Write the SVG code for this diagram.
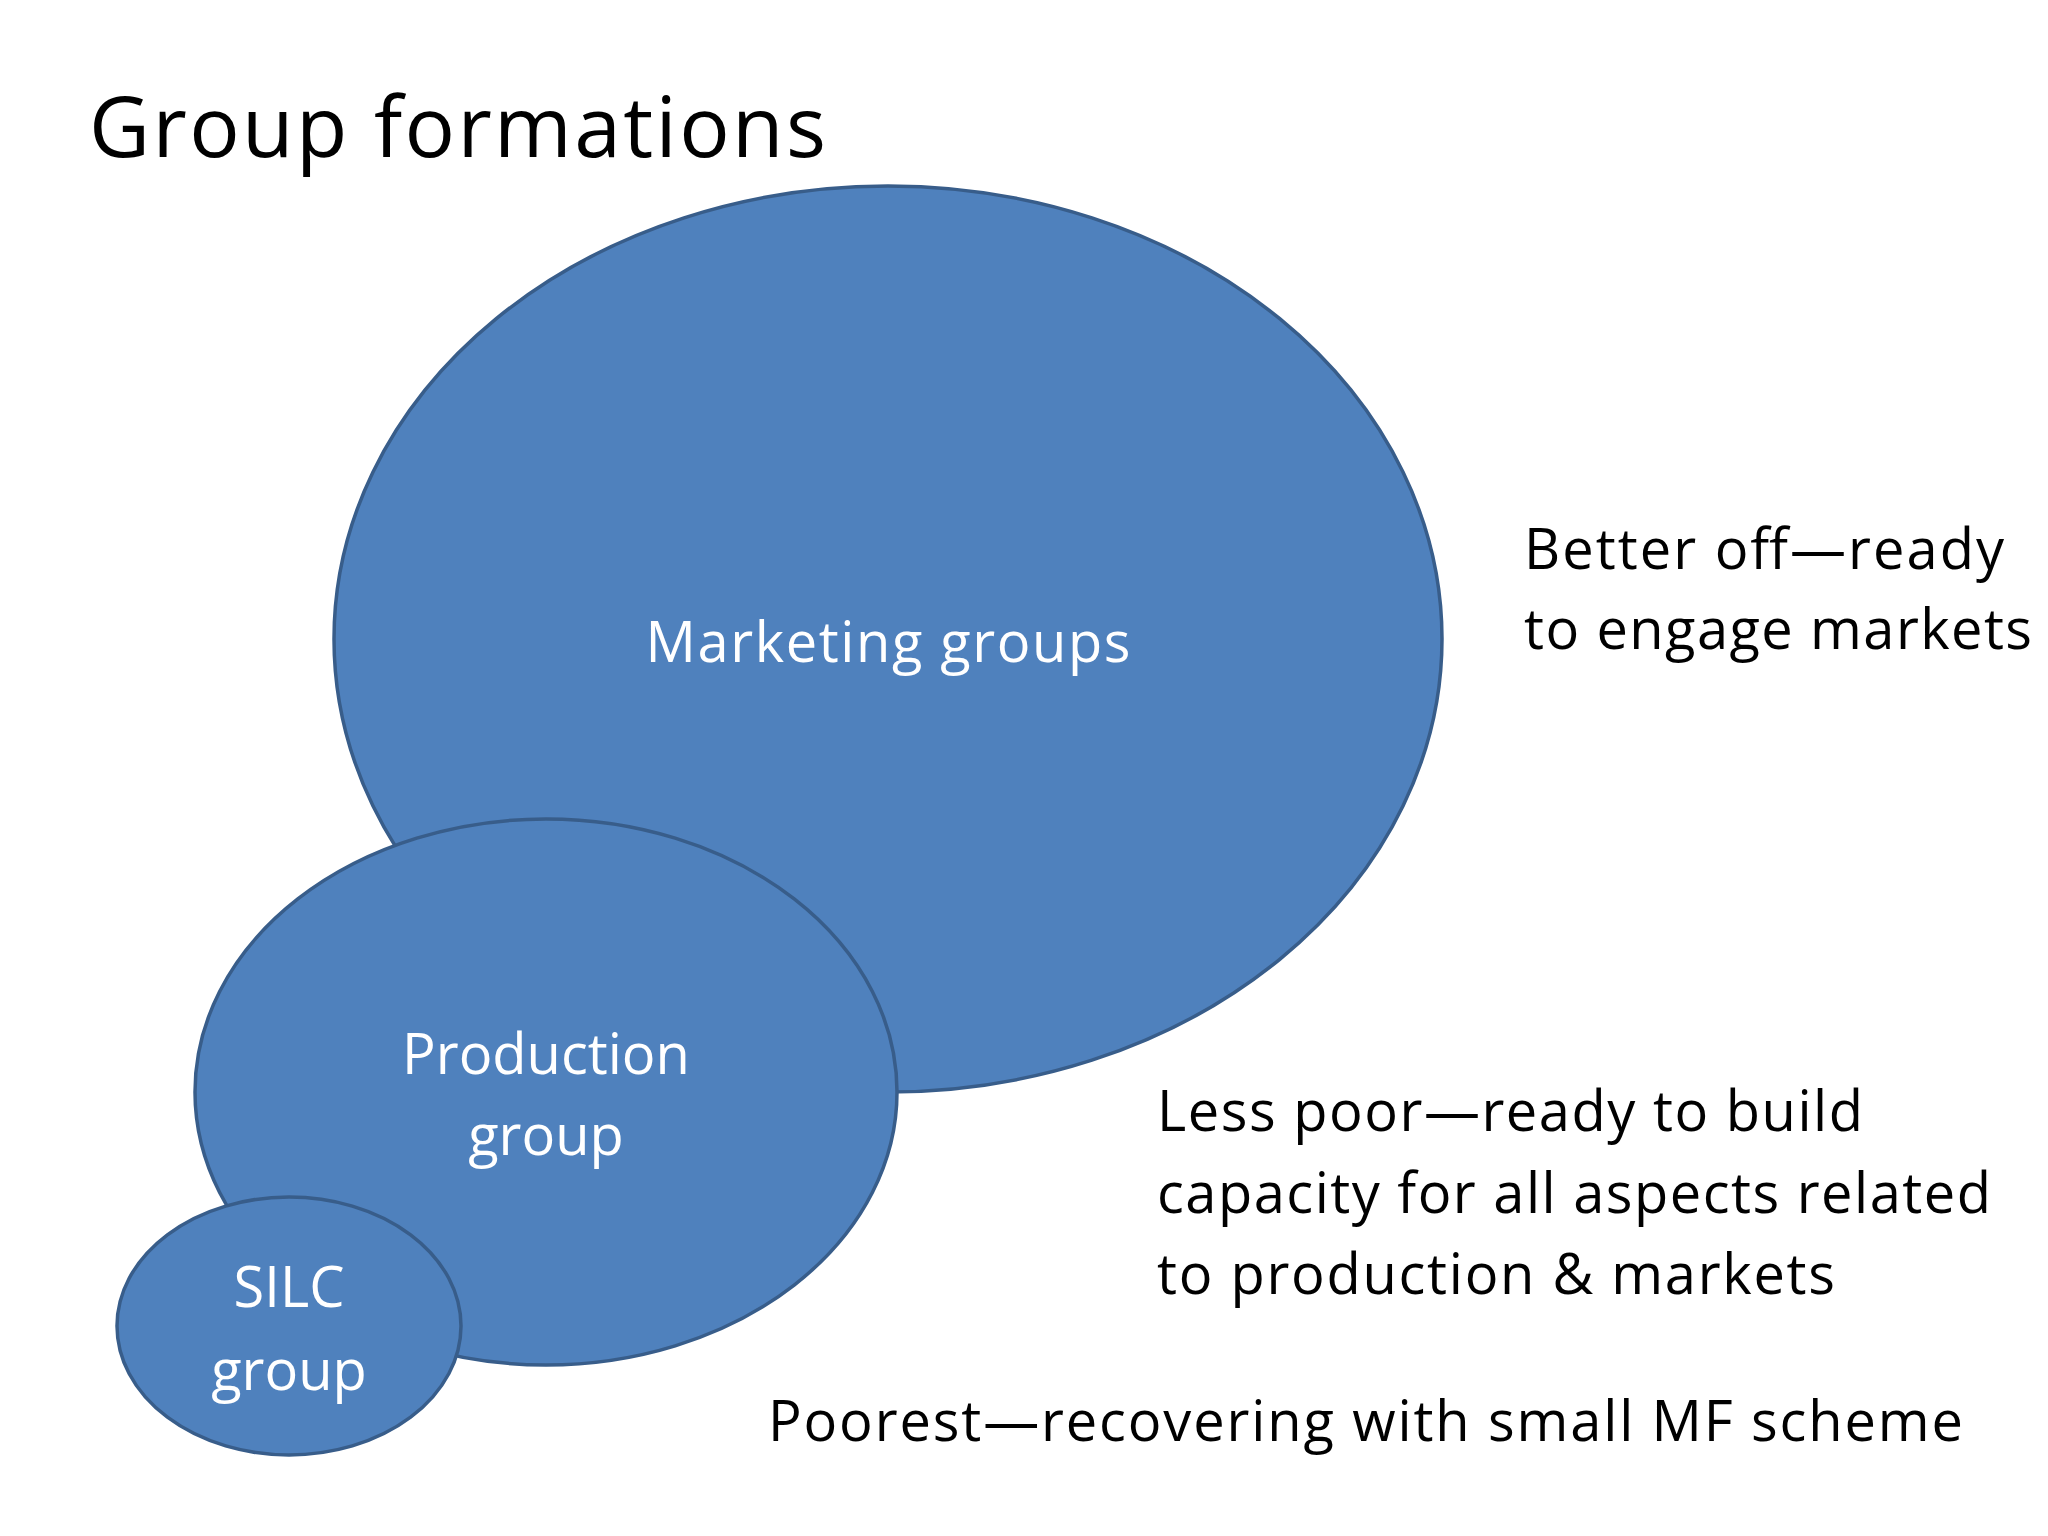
<svg xmlns="http://www.w3.org/2000/svg" width="2048" height="1536" viewBox="0 0 2048 1536">
<style>
.e{fill:#4F81BD;stroke:#385D8A;stroke-width:3.5}
.w{fill:#fff;font-family:"Open Sans","Noto Sans",sans-serif;font-size:56px;text-anchor:middle}
.b{fill:#000;font-family:"Open Sans","Noto Sans",sans-serif;font-size:56px}
</style>
<rect width="2048" height="1536" fill="#fff"/>
<text x="89" y="157" font-family="Open Sans, Noto Sans, sans-serif" font-size="84" textLength="737">Group formations</text>
<g id="marketing"><ellipse class="e" cx="888" cy="639" rx="554" ry="453"/><text class="w" x="888" y="662" textLength="485">Marketing groups</text></g>
<g id="production"><ellipse class="e" cx="546" cy="1092" rx="351" ry="273"/><text class="w" x="546" y="1074">Production</text><text class="w" x="546" y="1155">group</text></g>
<g id="silc"><ellipse class="e" cx="289" cy="1326" rx="172" ry="129"/><text class="w" x="289" y="1307">SILC</text><text class="w" x="289" y="1390">group</text></g>
<g id="labels">
<text class="b" x="1524" y="569" textLength="480">Better off—ready</text>
<text class="b" x="1524" y="649" textLength="508">to engage markets</text>
<text class="b" x="1157" y="1131" textLength="706">Less poor—ready to build</text>
<text class="b" x="1157" y="1213" textLength="834">capacity for all aspects related</text>
<text class="b" x="1157" y="1294" textLength="678">to production &amp; markets</text>
<text class="b" x="768" y="1441" textLength="1195">Poorest—recovering with small MF scheme</text>
</g>
<g id="connectors"/>
</svg>
